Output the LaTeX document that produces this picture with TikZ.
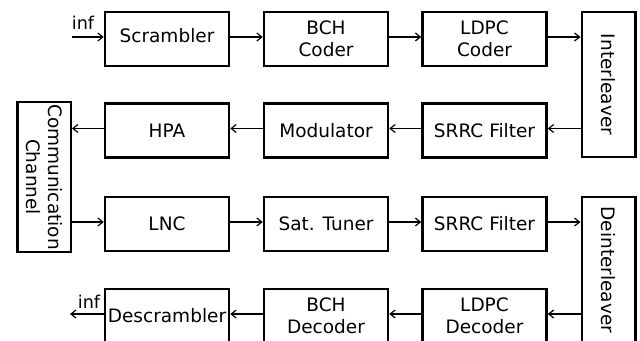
\documentclass[tikz,border=0pt]{standalone}
\usepackage{fontspec}
\setmainfont{DejaVu Sans}
\usetikzlibrary{arrows.meta}
\begin{document}
\begin{tikzpicture}[x=0.5pt,y=-0.5pt,
  blk/.style={draw=black, line width=1.25pt, minimum width=62pt, minimum height=27pt,
    inner sep=1pt, align=center, font=\fontsize{9.25pt}{11pt}\selectfont},
  vblk/.style={blk, rotate=-90, minimum height=26.75pt},
  conn/.style={line width=0.6pt, -{Straight Barb[length=2.5pt,width=4pt]}},
  lbl/.style={font=\fontsize{8.8pt}{10pt}\selectfont, anchor=base, inner sep=0pt}]
\clip (0,0) rectangle (640,341);
\useasboundingbox (0,0) rectangle (640,341);
% row 1
\node[blk, text height=7pt, text depth=3.5pt] (scr) at (167,39) {Scrambler};
\node[blk] (bch) at (326,39) {BCH\\Coder};
\node[blk] (ldpc) at (484.5,39) {LDPC\\Coder};
\node[vblk, minimum width=72.5pt] (inter) at (608.5,84.5) {Interleaver};
% row 2
\node[blk] (hpa) at (167,130.5) {HPA};
\node[blk] (mod) at (326,130.5) {Modulator};
\node[blk] (srrca) at (484.5,130.5) {SRRC Filter};
\node[vblk, minimum width=73pt] (chan) at (44,177) {Communication\\Channel};
% row 3
\node[blk] (lnc) at (167,224) {LNC};
\node[blk] (sat) at (326,224) {Sat. Tuner};
\node[blk] (srrcb) at (484.5,224) {SRRC Filter};
\node[vblk, minimum width=73pt] (deint) at (608.5,270) {Deinterleaver};
% row 4
\node[blk] (desc) at (167,316) {Descrambler};
\node[blk] (bchd) at (326,316) {BCH\\Decoder};
\node[blk] (ldpcd) at (484.5,316) {LDPC\\Decoder};
% inputs/outputs
\coordinate (inin) at (72,37);
\coordinate (outend) at (70,314);
\node[lbl] (infa) at (83,30) {inf};
\node[lbl] (infb) at (89,308) {inf};
% connectors
\draw[conn] (inin) -- ([yshift=1pt]scr.west);
\draw[conn] ([yshift=1pt]scr.east) -- ([yshift=1pt]bch.west);
\draw[conn] ([yshift=1pt]bch.east) -- ([yshift=1pt]ldpc.west);
\draw[conn] ([yshift=1pt]ldpc.east) -- ([yshift=1pt]ldpc.east -| inter.south);
\draw[conn] ([yshift=1pt]srrca.east -| inter.south) -- ([yshift=1pt]srrca.east);
\draw[conn] ([yshift=1pt]srrca.west) -- ([yshift=1pt]mod.east);
\draw[conn] ([yshift=1pt]mod.west) -- ([yshift=1pt]hpa.east);
\draw[conn] ([yshift=1pt]hpa.west) -- ([yshift=1pt]hpa.west -| chan.north);
\draw[conn] ([yshift=1pt]lnc.west -| chan.north) -- ([yshift=1pt]lnc.west);
\draw[conn] ([yshift=1pt]lnc.east) -- ([yshift=1pt]sat.west);
\draw[conn] ([yshift=1pt]sat.east) -- ([yshift=1pt]srrcb.west);
\draw[conn] ([yshift=1pt]srrcb.east) -- ([yshift=1pt]srrcb.east -| deint.south);
\draw[conn] ([yshift=1pt]ldpcd.east -| deint.south) -- ([yshift=1pt]ldpcd.east);
\draw[conn] ([yshift=1pt]ldpcd.west) -- ([yshift=1pt]bchd.east);
\draw[conn] ([yshift=1pt]bchd.west) -- ([yshift=1pt]desc.east);
\draw[conn] ([yshift=1pt]desc.west) -- (outend);
\end{tikzpicture}
\end{document}
